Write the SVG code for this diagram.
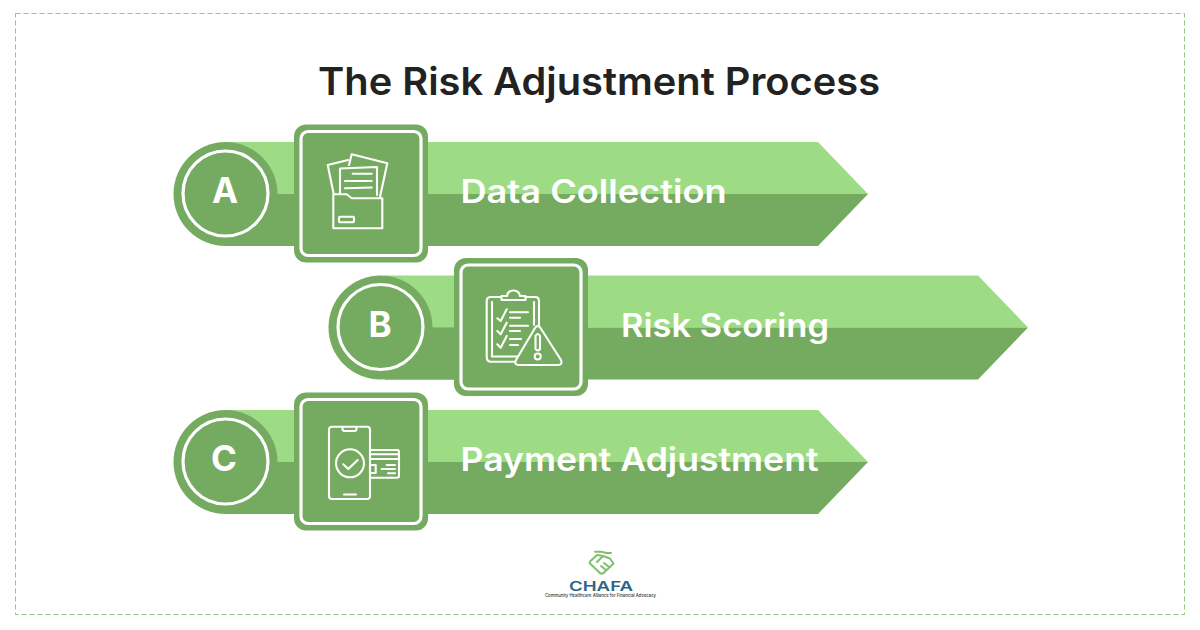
<svg xmlns="http://www.w3.org/2000/svg" width="1200" height="630" viewBox="0 0 1200 630">
<style>
.ln{fill:none;stroke:#fff;stroke-width:2.1;stroke-linejoin:round;stroke-linecap:round}
.t{font-family:"Inter","Liberation Sans",sans-serif;font-weight:600;fill:#fff}
.l{font-size:32px}
.k{font-size:35px;font-weight:700}
.ring{fill:none;stroke:#fff;stroke-width:3.2}
.g{fill:none;stroke:#7fc06a;stroke-width:2;stroke-linecap:round;stroke-linejoin:round}
</style>
<defs>
<g id="base">
<path d="M225 142H818L868 194H225Z" fill="#9ddc85"/>
<path d="M225 194H868L818 246H225Z" fill="#75ab60"/>
<rect x="225" y="194" width="70" height="52" fill="#75ab60"/>
<rect x="294" y="124.500" width="134" height="138" rx="12" fill="#75ab60"/>
<rect x="301" y="131.500" width="120" height="124" rx="7" class="ring"/>
</g>
<g id="badge">
<circle cx="0" cy="0.500" r="52" fill="#75ab60"/>
<circle cx="0" cy="0" r="42.500" class="ring"/>
</g>
</defs>
<rect width="1200" height="630" fill="#fff"/>
<rect x="15.500" y="13.500" width="1169" height="601" fill="none" stroke="#8fcb7b" stroke-width="1" stroke-dasharray="5 3"/>
<text x="318" y="95" font-family="Inter,'Liberation Sans',sans-serif" font-weight="600" font-size="38.500" fill="#222" textLength="562" lengthAdjust="spacingAndGlyphs">The Risk Adjustment Process</text>
<g id="node-a">
<use href="#base"/>
<use href="#badge" x="225.500" y="193.500"/>
<text x="225" y="203" text-anchor="middle" class="t k">A</text>
<g id="icon-a" class="ln">
<path d="M333.500 193L327.700 165L348 160"/>
<path d="M349 165L351.700 154.300L387.300 163.300L380 197"/>
<path d="M340 194V168.500L377 167V195"/>
<path d="M352.700 173.700H371.700M345 181H371.700M345 188.300L371.700 187.500"/>
<path d="M333.300 194.300H346.700L351.700 198.300H382.300V228.300H333.300Z"/>
<rect x="339" y="216.700" width="15" height="5.600" rx="1"/>
</g>
<text x="460.500" y="203" class="t l" textLength="266" lengthAdjust="spacingAndGlyphs">Data Collection</text>
</g>
<g id="node-b">
<use href="#base" x="160" y="133.500"/>
<use href="#badge" x="380.500" y="327"/>
<text x="380" y="336.500" text-anchor="middle" class="t k">B</text>
<g id="icon-b" class="ln">
<path d="M501 297H491Q486.700 297 486.700 301V357Q486.700 361.700 491 361.700H520"/>
<path d="M526 297H535Q539 297 539 301V327"/>
<path d="M492 302V356.500H518"/>
<path d="M534 302V325"/>
<path d="M501.500 300V296H507Q508 290.500 513.500 290.500Q519 290.500 520 296H525.500V300Z"/>
<path d="M497.300 318.300L500.700 321L506.700 309.300M497.300 331L500.700 334.300L506.700 322.700M497.300 344.300L500.700 347.700L506.700 336"/>
<path d="M510 312.300H528M510 317.700H520M510 325.700H528M510 331H520M510 339H521M510 345H518"/>
<path d="M535 328Q537.700 324 540.500 328L561 360Q563 365 558 365H519Q513.500 365 516 360Z" fill="#75ab60"/>
<path d="M535.500 336Q537.700 332 540 336V349Q537.700 352 535.500 349Z"/>
<circle cx="537.700" cy="356.500" r="3"/>
</g>
<text x="621" y="336.500" class="t l" textLength="208" lengthAdjust="spacingAndGlyphs">Risk Scoring</text>
</g>
<g id="node-c">
<use href="#base" y="268"/>
<use href="#badge" x="225.500" y="461.500"/>
<text x="224" y="471" text-anchor="middle" class="t k">C</text>
<g id="icon-c" class="ln">
<rect x="329" y="426.700" width="41" height="72.300" rx="3"/>
<path d="M342.500 427V429Q342.500 431 344.500 431H354.500Q356.500 431 356.500 429V427M344 494.500H356"/>
<circle cx="350" cy="463.300" r="14"/>
<path d="M343.300 464.300L348.300 469L357.700 460"/>
<path d="M370 450H397Q399 450 399 452V476Q399 477.700 397 477.700H370M370 454.300H399M370 459H399"/>
<rect x="370" y="465" width="5.700" height="8"/>
<path d="M386.700 465H395M381.700 469H395M388 473.300H395"/>
</g>
<text x="460.500" y="471" class="t l" textLength="358" lengthAdjust="spacingAndGlyphs">Payment Adjustment</text>
</g>
<g id="logo">
<path d="M595 551.700H601L607 553H611" class="g"/>
<path d="M590 561.500L597 555L603 556L610 558.500L613.500 563.500L603 573.500L600.500 573.500L589.500 563Z" class="g"/>
<path d="M597 562L603 556M601 566L606 570M604 563L609 567" class="g" stroke-width="1.500"/>
<text x="569" y="590.500" font-family="Inter,'Liberation Sans',sans-serif" font-weight="600" font-size="13" fill="#2e6386" textLength="64" lengthAdjust="spacingAndGlyphs">CHAFA</text>
<text x="545" y="597" font-family="Inter,'Liberation Sans',sans-serif" font-weight="500" font-size="4.300" fill="#333" textLength="111" lengthAdjust="spacingAndGlyphs">Community Healthcare Alliance for Financial Advocacy</text>
</g>
</svg>
